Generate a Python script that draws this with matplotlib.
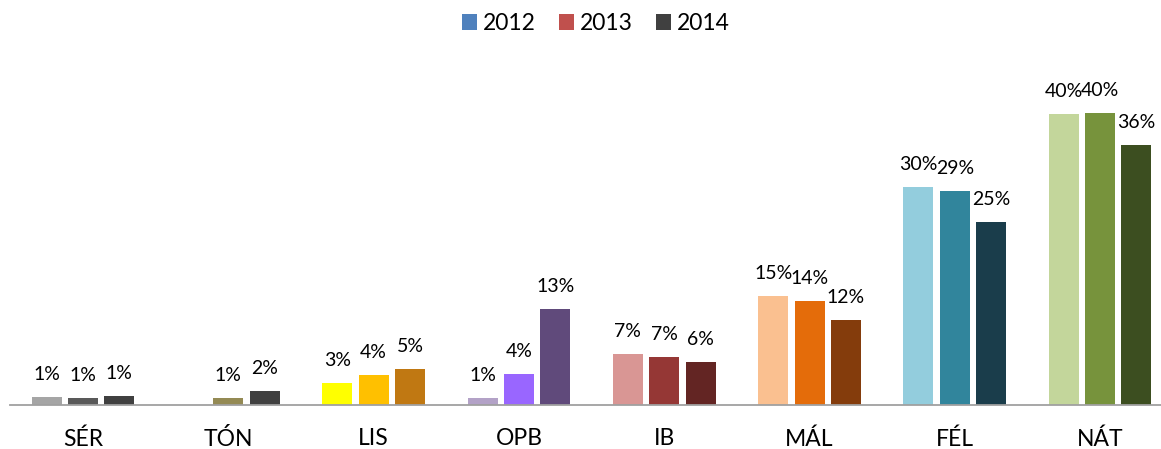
import matplotlib
matplotlib.use("Agg")
import matplotlib.pyplot as plt
from matplotlib.patches import Patch
import numpy as np

plt.rcParams['font.family'] = ['Lato', 'DejaVu Sans']

categories = ["SÉR", "TÓN", "LIS", "OPB", "IB", "MÁL", "FÉL", "NÁT"]
years = ["2012", "2013", "2014"]
values_2012 = [1.0, None, 3.0, 0.9, 7.0, 14.9, 29.9, 40.0]
values_2013 = [0.9, 0.9, 4.1, 4.2, 6.5, 14.2, 29.4, 40.2]
values_2014 = [1.2, 1.8, 4.9, 13.1, 5.9, 11.6, 25.1, 35.7]
labels_2012 = ["1%", None, "3%", "1%", "7%", "15%", "30%", "40%"]
labels_2013 = ["1%", "1%", "4%", "4%", "7%", "14%", "29%", "40%"]
labels_2014 = ["1%", "2%", "5%", "13%", "6%", "12%", "25%", "36%"]
legend_colors = ["#4F81BD", "#C0504D", "#404040"]
bar_colors = [
    ["#A5A5A5", "#595959", "#404040"],
    ["#948A54", "#948A54", "#404040"],
    ["#FFFF00", "#FFC000", "#C07812"],
    ["#B3A2C7", "#9966FF", "#604A7B"],
    ["#D99694", "#953735", "#632523"],
    ["#FAC090", "#E46C0A", "#843C0C"],
    ["#93CDDD", "#31859C", "#1A3D4B"],
    ["#C3D69B", "#77933C", "#3C4E20"],
]

W, H = 1161, 449
fig = plt.figure(figsize=(W / 100, H / 100), dpi=100)
base_px = 404.5
ymax = 45.0
px_per = 7.2625
ax_h = ymax * px_per
slot = 145.3
left_px = 83 - slot / 2
ax = fig.add_axes([left_px / W, (H - base_px) / H, 8 * slot / W, ax_h / H])

x = np.arange(len(categories))
series = [values_2012, values_2013, values_2014]
labels = [labels_2012, labels_2013, labels_2014]
offset = 0.25
bw = 30 / slot
for s in range(3):
    for i in range(len(categories)):
        v = series[s][i]
        if v is None:
            continue
        xi = x[i] + (s - 1) * offset
        ax.bar(xi, v, width=bw, color=bar_colors[i][s], zorder=2)
        ax.annotate(labels[s][i], (xi, v), xytext=(0, 12.2), textcoords="offset points",
                    ha="center", va="baseline", fontsize=14, color="#000000")

ax.set_xlim(-0.5, 7.5)
ax.set_ylim(0, ymax)
ax.set_xticks(x)
ax.set_xticklabels(categories, fontsize=16.5)
ax.tick_params(axis="x", length=0, pad=17)
ax.set_yticks([])
for sp in ["top", "right", "left"]:
    ax.spines[sp].set_visible(False)
ax.spines["bottom"].set_color("#A0A0A0")
ax.spines["bottom"].set_linewidth(1.3)

handles = [Patch(facecolor=c, edgecolor="none") for c in legend_colors]
fig.legend(handles, years, loc="center", bbox_to_anchor=(596 / W, 1 - 23.5 / H),
           ncol=3, frameon=False, fontsize=16.5, handlelength=0.66, handleheight=0.66,
           handletextpad=0.27, columnspacing=1.0, borderpad=0)

fig.savefig("out.png", dpi=100)
